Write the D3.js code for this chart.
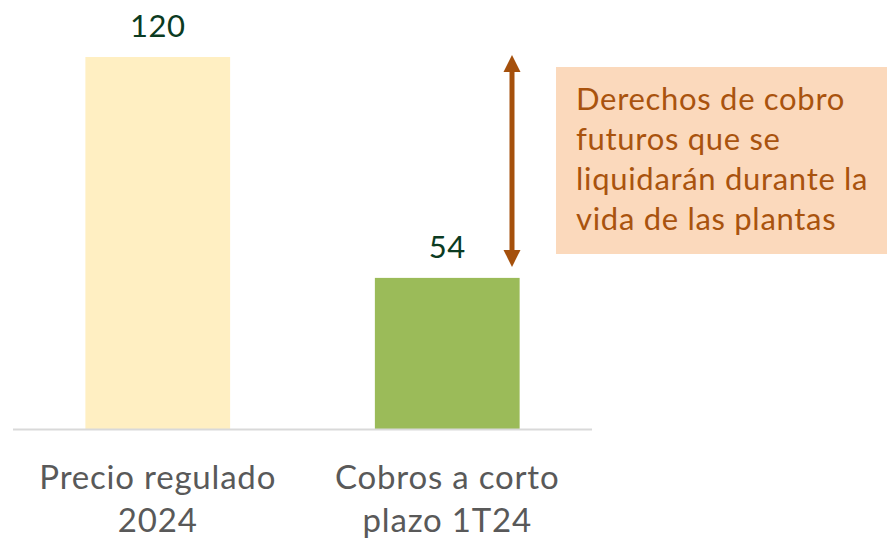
<!DOCTYPE html>
<html lang="es">
<head>
<meta charset="UTF-8">
<title>Precio regulado vs cobros a corto plazo</title>
<script src="https://d3js.org/d3.v7.min.js"></script>
<style>
  body { margin: 0; background: #fff; }
  text { font-family: Lato, "Open Sans", sans-serif; }
</style>
</head>
<body>
<div id="chart"></div>
<script>
// data
const categories = [["Precio regulado", "2024"], ["Cobros a corto", "plazo 1T24"]];
const values = [120, 54];
const barColors = ["#FFEFC2", "#9BBB59"];
const noteLines = ["Derechos de cobro", "futuros que se", "liquidarán durante la", "vida de las plantas"];

const width = 887, height = 540;
const svg = d3.select("#chart").append("svg")
  .attr("width", width)
  .attr("height", height);

// x band scale over the plot area
const x = d3.scaleBand()
  .domain(d3.range(values.length))
  .range([13, 592])
  .paddingInner(0.5)
  .paddingOuter(0.25);

// the original chart is not drawn to scale from zero, so the floor sits above 0
const y = d3.scaleLinear()
  .domain([8.7, 120])
  .range([429.5, 57]);

// bars
svg.selectAll("rect.bar")
  .data(values)
  .enter().append("rect")
  .attr("class", "bar")
  .attr("x", (d, i) => x(i))
  .attr("width", x.bandwidth())
  .attr("y", d => y(d))
  .attr("height", d => y.range()[0] - y(d))
  .attr("fill", (d, i) => barColors[i]);

// baseline
svg.append("line")
  .attr("x1", 13).attr("x2", 592)
  .attr("y1", 429.5).attr("y2", 429.5)
  .attr("stroke", "#D9D9D9")
  .attr("stroke-width", 2);

// value labels
svg.selectAll("text.val")
  .data(values)
  .enter().append("text")
  .attr("class", "val")
  .attr("x", (d, i) => x(i) + x.bandwidth() / 2)
  .attr("y", d => y(d) - 20)
  .attr("text-anchor", "middle")
  .attr("font-size", 31)
  .attr("letter-spacing", 0.5)
  .attr("fill", "#0B3B22")
  .text(d => d);

// category labels
const cat = svg.selectAll("text.cat")
  .data(categories)
  .enter().append("text")
  .attr("class", "cat")
  .attr("x", (d, i) => x(i) + x.bandwidth() / 2)
  .attr("y", 489)
  .attr("text-anchor", "middle")
  .attr("font-size", 33)
  .attr("letter-spacing", 0.8)
  .attr("fill", "#595959");
cat.selectAll("tspan")
  .data(d => d)
  .enter().append("tspan")
  .attr("x", function () { return d3.select(this.parentNode).attr("x"); })
  .attr("dy", (d, i) => i === 0 ? 0 : 43)
  .text(d => d);

// double arrow between the two values
const arrowX = 512;
const arrowColor = "#A5500C";
const yTop = y(values[0]) - 2, yBot = y(values[1]) - 11;
const head = 17, halfW = 8.5;
svg.append("line")
  .attr("x1", arrowX).attr("x2", arrowX)
  .attr("y1", yTop + head - 1).attr("y2", yBot - head + 1)
  .attr("stroke", arrowColor)
  .attr("stroke-width", 5);
svg.append("path")
  .attr("d", `M${arrowX},${yTop}L${arrowX + halfW},${yTop + head}L${arrowX - halfW},${yTop + head}Z`)
  .attr("fill", arrowColor);
svg.append("path")
  .attr("d", `M${arrowX},${yBot}L${arrowX + halfW},${yBot - head}L${arrowX - halfW},${yBot - head}Z`)
  .attr("fill", arrowColor);

// note box
svg.append("rect")
  .attr("x", 556).attr("y", 67)
  .attr("width", 331).attr("height", 187)
  .attr("fill", "#FBD9BC");
svg.append("text")
  .attr("x", 576).attr("y", 110)
  .attr("font-size", 31)
  .attr("letter-spacing", 0.7)
  .attr("fill", "#A9530E")
  .selectAll("tspan")
  .data(noteLines)
  .enter().append("tspan")
  .attr("x", 576)
  .attr("dy", (d, i) => i === 0 ? 0 : 40)
  .text(d => d);
</script>
</body>
</html>
